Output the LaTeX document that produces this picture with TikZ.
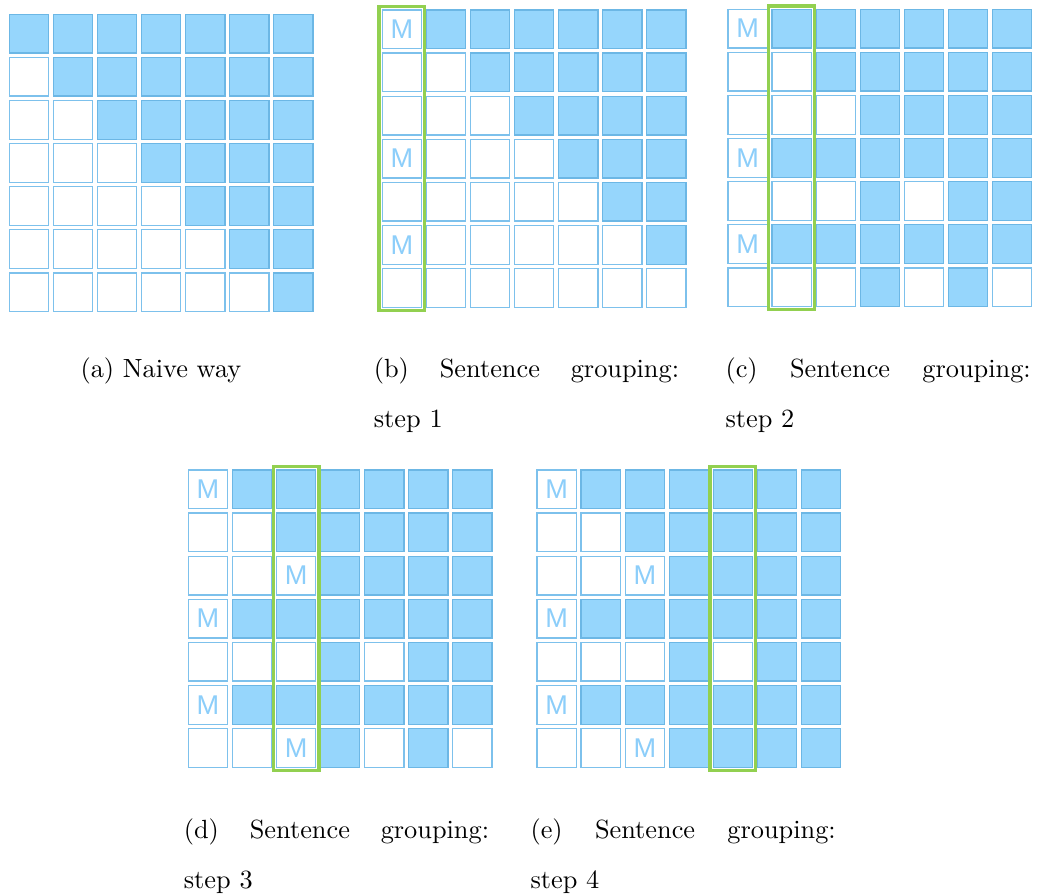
\documentclass[tikz,border=0pt]{standalone}
\usepackage{fontspec}
\newfontfamily\mfont{Liberation Sans}
\usetikzlibrary{fit}
\definecolor{cellfill}{RGB}{150,214,252}
\definecolor{celledge}{RGB}{108,183,229}
\definecolor{celledgew}{RGB}{125,193,236}
\definecolor{mtext}{RGB}{140,206,250}
\definecolor{selgreen}{RGB}{146,208,80}
\tikzset{
  cellbase/.style={rectangle, inner sep=0pt, minimum width=14.93pt, minimum height=14.7pt, line width=0.5pt},
  cellf/.style={cellbase, draw=celledge, fill=cellfill},
  cellw/.style={cellbase, draw=celledgew, fill=white},
  cellm/.style={cellbase, draw=celledgew, fill=white, text=mtext, font=\mfont\fontsize{10.3}{11}\selectfont},
  selbox/.style={draw=selgreen, line width=1.2pt, inner sep=1pt, rectangle},
  captxt/.style={anchor=base west, inner sep=0pt, font=\fontsize{10}{12}\selectfont}
}
\newcommand{\mygrid}[4]{%
  \foreach \rowdata [count=\i from 0] in {#4} {
    \foreach \v [count=\j from 0] in \rowdata {
      \ifcase\v
        \node[cellw] (#1-\i-\j) at ({#2+\j*44.07+19.65},{#3+\i*43.1+19.35}) {};
      \or
        \node[cellf] (#1-\i-\j) at ({#2+\j*44.07+19.65},{#3+\i*43.1+19.35}) {};
      \or
        \node[cellm] (#1-\i-\j) at ({#2+\j*44.07+19.65},{#3+\i*43.1+19.35}) {\raisebox{-0.5pt}{M}};
      \fi
    }
  }%
}
\begin{document}
\begin{tikzpicture}[x=0.38pt,y=-0.38pt]
\useasboundingbox (0,0) rectangle (1037,895);
% (a)
\mygrid{a}{9.3}{14.3}{{1,1,1,1,1,1,1},{0,1,1,1,1,1,1},{0,0,1,1,1,1,1},{0,0,0,1,1,1,1},{0,0,0,0,1,1,1},{0,0,0,0,0,1,1},{0,0,0,0,0,0,1}}
% (b)
\mygrid{b}{382.3}{10}{{2,1,1,1,1,1,1},{0,0,1,1,1,1,1},{0,0,0,1,1,1,1},{2,0,0,0,1,1,1},{0,0,0,0,0,1,1},{2,0,0,0,0,0,1},{0,0,0,0,0,0,0}}
\node[selbox, fit=(b-0-0)(b-6-0)] (bsel) {};
% (c)
\mygrid{c}{728}{9.3}{{2,1,1,1,1,1,1},{0,0,1,1,1,1,1},{0,0,0,1,1,1,1},{2,1,1,1,1,1,1},{0,0,0,1,0,1,1},{2,1,1,1,1,1,1},{0,0,0,1,0,1,0}}
\node[selbox, fit=(c-0-1)(c-6-1)] (csel) {};
% (d)
\mygrid{d}{188.3}{470}{{2,1,1,1,1,1,1},{0,0,1,1,1,1,1},{0,0,2,1,1,1,1},{2,1,1,1,1,1,1},{0,0,0,1,0,1,1},{2,1,1,1,1,1,1},{0,0,2,1,0,1,0}}
\node[selbox, fit=(d-0-2)(d-6-2)] (dsel) {};
% (e)
\mygrid{e}{537}{470}{{2,1,1,1,1,1,1},{0,0,1,1,1,1,1},{0,0,2,1,1,1,1},{2,1,1,1,1,1,1},{0,0,0,1,0,1,1},{2,1,1,1,1,1,1},{0,0,2,1,1,1,1}}
\node[selbox, fit=(e-0-4)(e-6-4)] (esel) {};
% captions
\node[captxt] (capa) at (80,377.5) {(a) Naive way};
\node[captxt] (capb1) at (373.3,377.5) {\makebox[116pt][s]{(b) Sentence grouping:}};
\node[captxt] (capb2) at (373.3,427.7) {step 1};
\node[captxt] (capc1) at (725,377.5) {\makebox[116pt][s]{(c) Sentence grouping:}};
\node[captxt] (capc2) at (725,427.7) {step 2};
\node[captxt] (capd1) at (183.3,838.3) {\makebox[116pt][s]{(d) Sentence grouping:}};
\node[captxt] (capd2) at (183.3,888.3) {step 3};
\node[captxt] (cape1) at (530,838.3) {\makebox[116pt][s]{(e) Sentence grouping:}};
\node[captxt] (cape2) at (530,888.3) {step 4};
\end{tikzpicture}
\end{document}
